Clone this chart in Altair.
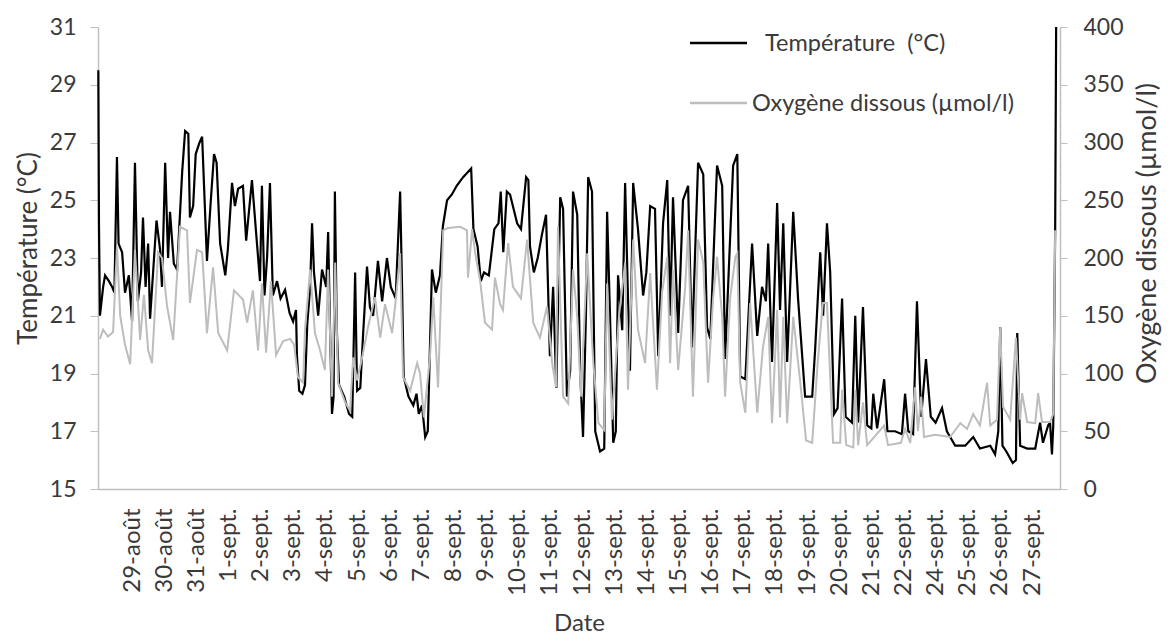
import altair as alt
import pandas as pd

# ---------------- data ----------------
day_labels = ["29-août", "30-août", "31-août", "1-sept.", "2-sept.", "3-sept.", "4-sept.",
              "5-sept.", "6-sept.", "7-sept.", "8-sept.", "9-sept.", "10-sept.", "11-sept.",
              "12-sept.", "13-sept.", "14-sept.", "15-sept.", "16-sept.", "17-sept.", "18-sept.",
              "19-sept.", "20-sept.", "21-sept.", "22-sept.", "24-sept.", "25-sept.", "26-sept.",
              "27-sept."]

# time in days relative to the "29-août" label
temp_t = [-1.05, -1.03, -1.00, -0.90, -0.84, -0.72, -0.62, -0.55, -0.47, -0.42, -0.31, -0.22, -0.10,
          0.00, 0.09, 0.18, 0.28, 0.34, 0.42, 0.50, 0.56, 0.66, 0.76, 0.87, 0.93, 1.03, 1.12, 1.18,
          1.30, 1.40, 1.56, 1.65, 1.75, 1.80, 1.90, 1.98, 2.10, 2.18, 2.33, 2.45, 2.55, 2.63, 2.74,
          2.90, 2.98, 3.11, 3.20, 3.30, 3.45, 3.55, 3.73, 3.85, 3.98, 4.04, 4.12, 4.20, 4.29, 4.38,
          4.51, 4.62, 4.76, 4.90, 5.01, 5.10, 5.13, 5.20, 5.30, 5.38, 5.45, 5.54, 5.60, 5.66, 5.79,
          5.91, 6.04, 6.10, 6.16, 6.22, 6.27, 6.31, 6.37, 6.44, 6.60, 6.75, 6.85, 6.94, 7.00, 7.10,
          7.19, 7.31, 7.40, 7.50, 7.65, 7.78, 7.93, 8.05, 8.20, 8.34, 8.40, 8.45, 8.60, 8.75, 8.85,
          8.92, 9.02, 9.12, 9.20, 9.33, 9.45, 9.58, 9.67, 9.80, 9.95, 10.10, 10.30, 10.55, 10.62,
          10.75, 10.85, 10.95, 11.10, 11.27, 11.40, 11.47, 11.55, 11.66, 11.76, 11.98, 12.10, 12.26,
          12.33, 12.38, 12.50, 12.62, 12.75, 12.88, 13.00, 13.10, 13.20, 13.32, 13.41, 13.53, 13.63,
          13.72, 13.85, 13.94, 14.03, 14.12, 14.19, 14.31, 14.41, 14.56, 14.69, 14.78, 14.87, 14.97,
          15.05, 15.12, 15.25, 15.34, 15.42, 15.49, 15.59, 15.74, 15.90, 16.00, 16.12, 16.27, 16.37,
          16.52, 16.65, 16.74, 16.83, 16.99, 17.14, 17.30, 17.42, 17.61, 17.77, 17.89, 17.99, 18.20,
          18.36, 18.45, 18.70, 18.83, 18.92, 19.08, 19.29, 19.45, 19.60, 19.72, 19.79, 19.91, 20.07,
          20.16, 20.26, 20.38, 20.57, 20.72, 20.94, 21.16, 21.25, 21.41, 21.50, 21.62, 21.72, 21.84,
          21.95, 22.09, 22.20, 22.40, 22.50, 22.59, 22.74, 22.87, 23.00, 23.06, 23.18, 23.40, 23.50,
          23.74, 23.95, 24.05, 24.15, 24.30, 24.42, 24.55, 24.70, 24.85, 25.00, 25.20, 25.35, 25.61,
          25.92, 26.17, 26.38, 26.70, 26.85, 26.95, 27.01, 27.08, 27.20, 27.40, 27.50, 27.54, 27.63,
          27.85, 28.10, 28.25, 28.34, 28.50, 28.56, 28.62, 28.66, 28.72, 28.75]
temp_v = [29.5, 24.2, 21.0, 22.0, 22.4, 22.2, 22.0, 21.8, 26.5, 23.5, 23.2, 21.8, 22.4,
          20.8, 26.3, 21.5, 22.5, 24.4, 22.0, 23.5, 20.9, 22.6, 24.3, 23.3, 22.0, 26.3, 23.0, 24.6,
          22.8, 22.6, 26.0, 27.4, 27.3, 24.4, 24.8, 26.6, 27.0, 27.2, 22.9, 25.0, 26.6, 26.3, 23.5,
          22.4, 23.3, 25.6, 24.8, 25.4, 25.5, 23.6, 25.7, 24.0, 22.2, 25.5, 21.7, 23.0, 25.6, 21.7,
          22.2, 21.6, 21.9, 21.1, 20.8, 21.2, 19.6, 18.4, 18.3, 18.6, 20.7, 22.0, 24.2, 22.5, 21.0,
          22.6, 22.0, 23.9, 20.5, 17.6, 18.2, 25.3, 20.5, 18.6, 18.2, 17.6, 17.5, 22.5, 18.4, 18.5,
          20.4, 22.7, 21.3, 21.0, 22.9, 21.5, 23.0, 22.0, 21.6, 25.3, 22.0, 18.9, 18.2, 17.9, 18.3,
          17.6, 17.9, 16.8, 17.0, 22.6, 21.8, 22.4, 24.1, 25.0, 25.2, 25.5, 25.8, 26.1, 24.0,
          23.4, 22.2, 22.5, 22.4, 24.0, 24.2, 25.3, 23.2, 25.3, 25.2, 24.2, 24.0, 25.8,
          25.7, 23.4, 22.5, 23.0, 23.8, 24.5, 19.6, 22.0, 18.5, 25.1, 24.7, 18.2, 19.1,
          25.3, 24.5, 19.1, 16.8, 21.0, 25.8, 25.3, 17.0, 16.3, 16.4, 24.6, 21.0, 16.6,
          17.0, 22.4, 20.5, 25.6, 22.0, 19.1, 25.6, 24.0, 21.7, 22.5, 24.8, 24.7, 19.6,
          24.2, 25.7, 21.0, 25.1, 20.4, 25.0, 25.5, 19.9, 26.3, 25.9, 20.6, 20.2, 26.2,
          25.5, 19.5, 26.2, 26.6, 18.9, 18.8, 23.5, 20.3, 22.0, 21.5, 23.5, 19.4, 24.9,
          21.2, 24.2, 19.4, 24.6, 21.6, 18.2, 18.2, 19.8, 23.2, 21.0, 24.2, 22.5, 17.6,
          17.8, 21.6, 17.5, 17.3, 21.0, 17.3, 21.3, 17.2, 17.1, 18.3, 17.1, 18.8, 17.0,
          17.0, 16.9, 18.3, 17.0, 16.9, 21.5, 17.5, 19.5, 17.5, 17.3, 17.8, 17.0, 16.5,
          16.5, 16.8, 16.4, 16.5, 16.2, 17.0, 20.6, 16.5, 16.3, 15.9, 16.0, 20.4, 16.5,
          16.4, 16.4, 17.3, 16.6, 17.2, 17.3, 16.2, 17.2, 24.0, 31.0]

oxy_t = [-1.00, -0.90, -0.75, -0.59, -0.47, -0.37, -0.22, -0.06, 0.09, 0.25, 0.37, 0.50, 0.62,
         0.81, 0.93, 1.09, 1.28, 1.49, 1.71, 1.80, 2.02, 2.18, 2.33, 2.52, 2.68, 2.96, 3.17, 3.45,
         3.58, 3.76, 3.92, 4.04, 4.17, 4.32, 4.48, 4.70, 4.92, 5.04, 5.16, 5.32, 5.38, 5.54, 5.69,
         5.85, 6.00, 6.10, 6.22, 6.32, 6.41, 6.63, 6.78, 6.88, 7.00, 7.16, 7.34, 7.56, 7.72, 7.87,
         8.09, 8.21, 8.34, 8.43, 8.65, 8.87, 8.96, 9.08, 9.27, 9.37, 9.52, 9.68, 9.83, 10.21, 10.42,
         10.45, 10.58, 10.67, 10.83, 10.98, 11.20, 11.29, 11.45, 11.54, 11.70, 11.85, 12.10, 12.29,
         12.48, 12.69, 12.91, 13.07, 13.19, 13.25, 13.41, 13.57, 13.72, 13.85, 13.97, 14.16, 14.35,
         14.51, 14.69, 14.78, 14.93, 15.15, 15.34, 15.43, 15.59, 15.74, 15.96, 16.12, 16.33, 16.49,
         16.65, 16.74, 16.83, 16.99, 17.21, 17.30, 17.45, 17.61, 17.77, 17.92, 18.08, 18.20, 18.36,
         18.45, 18.61, 18.77, 18.83, 18.92, 19.08, 19.23, 19.45, 19.63, 19.79, 19.91, 20.07, 20.16,
         20.26, 20.38, 20.57, 20.79, 20.97, 21.16, 21.33, 21.49, 21.62, 21.81, 22.03, 22.09, 22.22,
         22.44, 22.50, 22.59, 22.74, 22.87, 23.40, 23.52, 23.92, 24.05, 24.21, 24.36, 24.45, 24.55,
         24.64, 24.98, 25.45, 25.77, 25.98, 26.17, 26.38, 26.60, 26.70, 26.91, 27.01, 27.10, 27.32,
         27.50, 27.63, 27.69, 27.85, 28.10, 28.19, 28.31, 28.56, 28.66, 28.72]
oxy_v = [130, 138, 132, 136, 210, 150, 125, 108, 207, 129, 168, 120, 109,
         205, 200, 158, 129, 227, 224, 161, 207, 205, 135, 192, 135, 120, 172, 164,
         144, 172, 120, 178, 118, 180, 116, 128, 130, 125, 97, 92, 138, 190, 135,
         120, 103, 190, 80, 196, 92, 75, 68, 114, 94, 114, 140, 166, 131, 160,
         135, 165, 204, 97, 85, 109, 100, 62, 115, 166, 88, 224, 226, 227, 224,
         183, 225, 205, 180, 144, 138, 183, 160, 155, 213, 175, 165, 216,
         144, 131, 158, 109, 88, 227, 80, 74, 190, 149, 80, 204, 109,
         57, 51, 178, 60, 150, 196, 86, 216, 138, 109, 187, 86, 170,
         201, 109, 190, 103, 175, 224, 80, 216, 196, 92, 166, 201, 149,
         80, 166, 201, 204, 92, 66, 161, 66, 123, 149, 57, 155, 62,
         149, 57, 149, 92, 42, 40, 109, 161, 161, 40, 40, 86, 38,
         36, 86, 38, 75, 38, 55, 38, 40, 52, 40, 88, 50, 80,
         45, 47, 45, 57, 52, 65, 55, 92, 55, 60, 140, 71, 60,
         131, 60, 83, 58, 57, 83, 58, 58, 65, 224]

legend_labels = ["Température\u00a0\u00a0(°C)", "Oxygène dissous (µmol/l)"]

temp_df = pd.DataFrame({"t": temp_t, "v": temp_v})
oxy_df = pd.DataFrame({"t": oxy_t, "v": oxy_v})
one = pd.DataFrame({"k": [0]})

FONT = "Lato"
TEXT = "#3a3a3a"
AXIS = "#bfbfbf"
GREY = "#bdbdbd"

label_expr = "[" + ",".join("'" + s + "'" for s in day_labels) + "][datum.value]"

x_axis = alt.Axis(
    values=list(range(len(day_labels))), labelExpr=label_expr, labelAngle=270,
    labelAlign="right", labelBaseline="middle", ticks=False, tickSize=0,
    labelPadding=19, labelOverlap=False, labelFlush=False, labelBound=False, grid=False,
    labelFontSize=24, labelFont=FONT, labelColor=TEXT,
    domainColor=AXIS, domainWidth=1.5,
    title="Date", titleFont=FONT, titleFontSize=24, titleFontWeight="normal",
    titleColor=TEXT, titleY=141, titleBaseline="alphabetic",
)
x_scale = alt.Scale(domain=[-1.06, 28.87], nice=False, zero=False)

temp_line = alt.Chart(temp_df).mark_line(color="#000000", strokeWidth=2.2).encode(
    x=alt.X("t:Q", scale=x_scale, axis=x_axis),
    y=alt.Y(
        "v:Q",
        scale=alt.Scale(domain=[15, 31], nice=False, zero=False),
        axis=alt.Axis(
            orient="left", values=list(range(15, 32, 2)), tickSize=8, tickColor=AXIS,
            labelPadding=14, grid=False, labelFontSize=23, labelFont=FONT, labelColor=TEXT,
            domainColor=AXIS, domainWidth=1.5,
            title="Température (°C)", titleFont=FONT, titleFontSize=26,
            titleFontWeight="normal", titleColor=TEXT, titleAngle=270,
            titleX=-70, titleY=221, titleAlign="center", titleBaseline="middle",
        ),
    ),
)

oxy_line = alt.Chart(oxy_df).mark_line(color=GREY, strokeWidth=2).encode(
    x=alt.X("t:Q", scale=x_scale, axis=x_axis),
    y=alt.Y(
        "v:Q",
        scale=alt.Scale(domain=[0, 400], nice=False, zero=True),
        axis=alt.Axis(
            orient="right", values=list(range(0, 401, 50)), tickSize=7, tickColor=AXIS,
            labelPadding=16, grid=False, labelFontSize=23, labelFont=FONT, labelColor=TEXT,
            domainColor=AXIS, domainWidth=1.5,
            title="Oxygène dissous (µmol/l)", titleFont=FONT, titleFontSize=27,
            titleFontWeight="normal", titleColor=TEXT, titleAngle=270,
            titleX=87, titleY=206, titleAlign="center", titleBaseline="middle",
        ),
    ),
)

rule1 = alt.Chart(one).mark_rule(color="#000000", strokeWidth=2.5).encode(
    x=alt.value(592), x2=alt.value(649), y=alt.value(16))
text1 = alt.Chart(one).mark_text(align="left", baseline="middle", fontSize=23.5, font=FONT,
                                  color=TEXT).encode(
    x=alt.value(667), y=alt.value(17), text=alt.value(legend_labels[0]))
rule2 = alt.Chart(one).mark_rule(color=GREY, strokeWidth=2.5).encode(
    x=alt.value(592), x2=alt.value(649), y=alt.value(76))
text2 = alt.Chart(one).mark_text(align="left", baseline="middle", fontSize=23.5, font=FONT,
                                  color=TEXT).encode(
    x=alt.value(654), y=alt.value(77), text=alt.value(legend_labels[1]))

chart = alt.layer(temp_line, oxy_line, rule1, text1, rule2, text2).resolve_scale(
    y="independent"
).properties(
    width=962, height=462,
    autosize=alt.AutoSizeParams(type="none"),
    padding={"left": 90, "top": 19, "right": 105, "bottom": 145},
).configure_view(stroke=None).configure_axisX(labelOverlap=False)

chart.save("out.html", embed_options={"renderer": "svg", "actions": False})
